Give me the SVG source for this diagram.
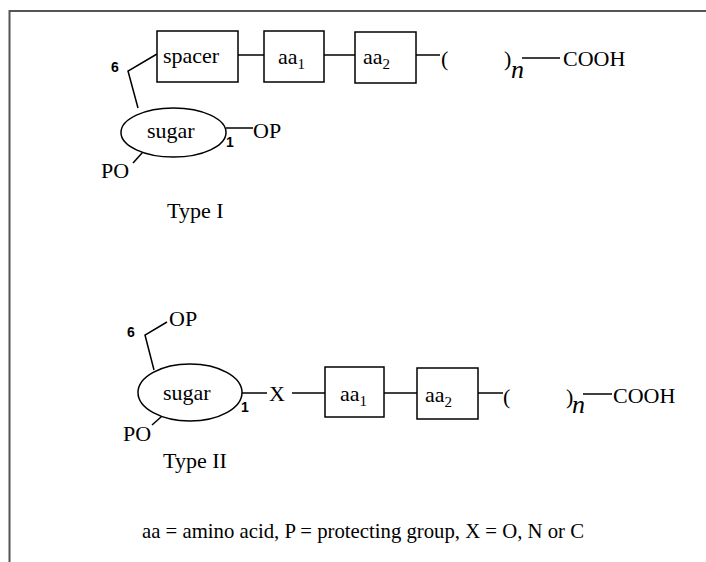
<svg xmlns="http://www.w3.org/2000/svg" width="706" height="562" viewBox="0 0 706 562">
<style>
  .t { font-family: "Liberation Serif", "Times New Roman", serif; font-size: 22px; fill: #000; }
  .sub { font-size: 15px; }
  .it { font-style: italic; font-size: 26px; }
  .num { font-family: "Liberation Sans", Arial, sans-serif; font-size: 14px; font-weight: bold; fill: #000; }
  .box { fill: #fff; stroke: #000; stroke-width: 1.5; }
  .ell { fill: #fff; stroke: #000; stroke-width: 1.5; }
  .ln { fill: none; stroke: #000; stroke-width: 1.5; }
  .frame { fill: none; stroke: #555; stroke-width: 2; }
</style>
<rect width="706" height="562" fill="#fff"/>
<g id="frame">
  <path class="frame" d="M9.5 562 V11 H706"/>
</g>
<g id="connectors">
  <!-- Type I -->
  <polyline class="ln" points="138,108 128,71 157,54"/>
  <line class="ln" x1="238" y1="55" x2="264" y2="55"/>
  <line class="ln" x1="324" y1="55" x2="355" y2="55"/>
  <line class="ln" x1="416" y1="55" x2="440" y2="55"/>
  <line class="ln" x1="522" y1="58" x2="560" y2="58"/>
  <line class="ln" x1="226" y1="128" x2="253" y2="128"/>
  <line class="ln" x1="152" y1="142" x2="133" y2="163"/>
  <!-- Type II -->
  <polyline class="ln" points="154,370 145,335 167,322"/>
  <line class="ln" x1="242" y1="393" x2="267" y2="393"/>
  <line class="ln" x1="292" y1="393" x2="325" y2="393"/>
  <line class="ln" x1="384" y1="393" x2="417" y2="393"/>
  <line class="ln" x1="478" y1="393" x2="503" y2="393"/>
  <line class="ln" x1="583" y1="394" x2="612" y2="394"/>
  <line class="ln" x1="170" y1="409" x2="152" y2="425"/>
</g>
<g id="spacer">
  <rect class="box" x="157" y="31" width="81" height="51"/>
  <text class="t" x="163" y="63">spacer</text>
</g>
<g id="aa1-I">
  <rect class="box" x="264" y="31" width="60" height="51"/>
  <text class="t" x="278" y="64">aa<tspan class="sub" dy="5">1</tspan></text>
</g>
<g id="aa2-I">
  <rect class="box" x="355" y="32" width="61" height="51"/>
  <text class="t" x="363" y="64">aa<tspan class="sub" dy="5">2</tspan></text>
</g>
<g id="repeat-I">
  <text class="t" x="441" y="66">(</text>
  <text class="t" x="504" y="66">)</text>
  <text class="t it" x="511" y="78">n</text>
  <text class="t" x="563" y="66">COOH</text>
</g>
<g id="sugar-I">
  <ellipse class="ell" cx="173.5" cy="132.5" rx="52.5" ry="24.5"/>
  <text class="t" x="147" y="138">sugar</text>
  <text class="num" x="111" y="72">6</text>
  <text class="num" x="226" y="147">1</text>
  <text class="t" x="253" y="138">OP</text>
  <text class="t" x="101" y="178">PO</text>
  <text class="t" x="167" y="218">Type I</text>
</g>
<g id="sugar-II">
  <ellipse class="ell" cx="190" cy="392.5" rx="52" ry="28.5"/>
  <text class="t" x="163" y="400">sugar</text>
  <text class="num" x="127" y="337">6</text>
  <text class="num" x="241" y="412">1</text>
  <text class="t" x="169" y="326">OP</text>
  <text class="t" x="123" y="441">PO</text>
  <text class="t" x="269" y="401">X</text>
  <text class="t" x="163" y="468">Type II</text>
</g>
<g id="aa1-II">
  <rect class="box" x="325" y="367" width="59" height="50"/>
  <text class="t" x="340" y="401">aa<tspan class="sub" dy="5">1</tspan></text>
</g>
<g id="aa2-II">
  <rect class="box" x="417" y="368" width="61" height="51"/>
  <text class="t" x="425" y="402">aa<tspan class="sub" dy="5">2</tspan></text>
</g>
<g id="repeat-II">
  <text class="t" x="503" y="404">(</text>
  <text class="t" x="566" y="404">)</text>
  <text class="t it" x="572" y="413">n</text>
  <text class="t" x="613" y="403">COOH</text>
</g>
<g id="caption">
  <text class="t" x="142" y="538" textLength="442" lengthAdjust="spacingAndGlyphs">aa = amino acid, P = protecting group, X = O, N or C</text>
</g>
</svg>
